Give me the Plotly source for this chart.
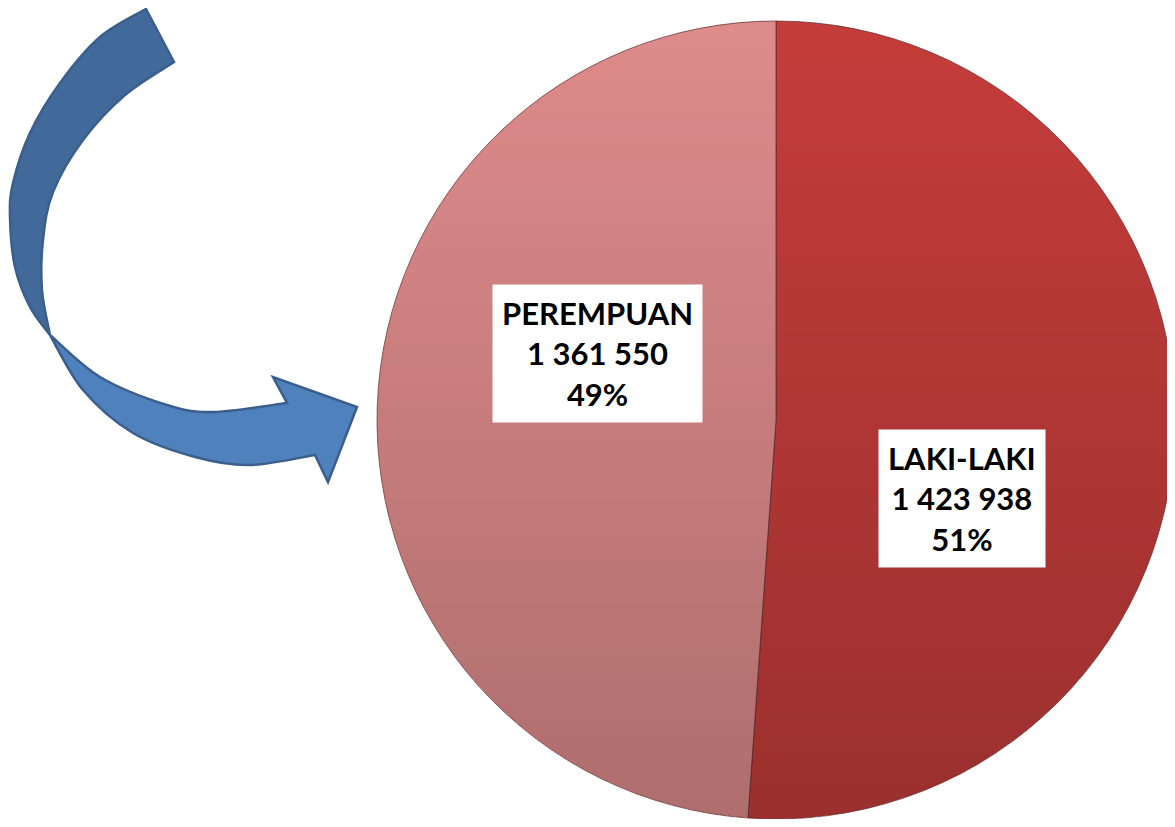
import base64
import struct
import zlib

import plotly.graph_objects as go

# ---- data ----
labels = ["LAKI-LAKI", "PEREMPUAN"]
values = [1423938, 1361550]
colors = ["#c43d3b", "#de8b8b"]

OFF = 8  # page body margin offset
W, H = 1175 - OFF, 827 - 2 * OFF
total = sum(values)
pcts = [round(v / total * 100) for v in values]
texts = [f"<b>{l}<br>{v:,}".replace(",", " ") + f"<br>{p}%</b>" for l, v, p in zip(labels, values, pcts)]


def px(x, y):
    return (x - OFF) / W, 1 - (y - OFF) / H


def smooth_path(pts):
    n = len(pts)
    out = []
    p0 = px(*pts[0])
    out.append(f"M {p0[0]:.5f},{p0[1]:.5f}")
    for i in range(n - 1):
        a = pts[i - 1] if i > 0 else pts[i]
        b = pts[i]
        c = pts[i + 1]
        d = pts[i + 2] if i + 2 < n else pts[i + 1]
        c1 = (b[0] + (c[0] - a[0]) / 6, b[1] + (c[1] - a[1]) / 6)
        c2 = (c[0] - (d[0] - b[0]) / 6, c[1] - (d[1] - b[1]) / 6)
        q1, q2, q3 = px(*c1), px(*c2), px(*c)
        out.append(f"C {q1[0]:.5f},{q1[1]:.5f} {q2[0]:.5f},{q2[1]:.5f} {q3[0]:.5f},{q3[1]:.5f}")
    return out


def poly_path(segments):
    parts = []
    first = True
    for kind, pts in segments:
        if kind == "smooth":
            s = smooth_path(pts)
            if not first:
                p = px(*pts[0])
                s = [f"L {p[0]:.5f},{p[1]:.5f}"] + s[1:]
            parts += s
        else:
            for j, pt in enumerate(pts):
                p = px(*pt)
                parts.append(("M " if first and j == 0 else "L ") + f"{p[0]:.5f},{p[1]:.5f}")
        first = False
    return " ".join(parts) + " Z"


# decorative arrow outline (screen pixels)
upper_outer = [(146, 9), (100, 37), (60, 83), (30, 133), (13, 183), (10, 217), (15, 267), (30, 307), (50, 335)]
upper_inner = [(50, 335), (42, 290), (43, 240), (53, 192), (83, 140), (125, 95), (174, 62)]
lower_bottom = [(50, 335), (83, 390), (133, 433), (195, 457), (250, 465), (315, 455)]
head = [(328, 482), (357, 407), (273, 377), (287, 403)]
lower_top = [(287, 403), (213, 412), (167, 405), (100, 377), (50, 335)]

upper_path = poly_path([("smooth", upper_outer), ("smooth", upper_inner)])
lower_path = poly_path([("smooth", lower_bottom), ("line", head), ("smooth", lower_top)])

# pie placement (screen pixels)
CX, CY, R = 776, 420, 399
x0p, y1p = px(CX - R, CY - R)
x1p, y0p = px(CX + R, CY + R)
x0p, x1p = max(0.0, x0p), min(1.0, x1p)
y0p, y1p = max(0.0, y0p), min(1.0, y1p)


def shade_png(size, max_alpha=0.21):
    # vertical darkening overlay clipped to a circle
    rows = []
    rr = (size / 2 - 0.6) ** 2
    c = size / 2
    for yy in range(size):
        a = int(255 * max_alpha * yy / (size - 1))
        dy = yy + 0.5 - c
        span = rr - dy * dy
        if span <= 0:
            rows.append(b"\x00" + b"\x00\x00\x00\x00" * size)
            continue
        hw = span ** 0.5
        xa = max(0, int(round(c - hw)))
        xb = min(size, int(round(c + hw)))
        rows.append(b"\x00" + b"\x00\x00\x00\x00" * xa + bytes((0, 0, 0, a)) * (xb - xa)
                    + b"\x00\x00\x00\x00" * (size - xb))
    raw = b"".join(rows)

    def chunk(tag, data):
        return struct.pack(">I", len(data)) + tag + data + struct.pack(">I", zlib.crc32(tag + data) & 0xFFFFFFFF)

    png = b"\x89PNG\r\n\x1a\n" + chunk(b"IHDR", struct.pack(">IIBBBBB", size, size, 8, 6, 0, 0, 0)) \
        + chunk(b"IDAT", zlib.compress(raw, 9)) + chunk(b"IEND", b"")
    return "data:image/png;base64," + base64.b64encode(png).decode()


fig = go.Figure()
fig.add_trace(go.Pie(
    labels=labels,
    values=values,
    sort=False,
    direction="clockwise",
    rotation=0,
    marker=dict(colors=colors, line=dict(color="rgba(90,40,40,0.7)", width=1)),
    textinfo="none",
    hoverinfo="label+value+percent",
    showlegend=False,
    domain=dict(x=[x0p, x1p], y=[y0p, y1p]),
))

img = shade_png(2 * R)
gx0, gy1 = px(CX - R, CY - R)
fig.add_layout_image(
    source=img, xref="paper", yref="paper", x=gx0, y=gy1,
    sizex=2 * R / W, sizey=2 * R / H, xanchor="left", yanchor="top",
    sizing="stretch", layer="above",
)

ann_pos = [(1046, 498), (597, 353)]
for t, (ax, ay) in zip(texts, ann_pos):
    x, y = px(ax, ay)
    fig.add_annotation(
        x=x, y=y, xref="paper", yref="paper", text=t, showarrow=False,
        font=dict(family="Lato", size=31, color="black", weight=900),
        bgcolor="white", borderpad=9, align="center",
    )

fig.add_shape(type="path", path=lower_path, xref="paper", yref="paper",
              fillcolor="#4f81bd", line=dict(color="#3b5f8c", width=2.5))
fig.add_shape(type="path", path=upper_path, xref="paper", yref="paper",
              fillcolor="#41699a", line=dict(color="#3b5f8c", width=2.5))

fig.update_layout(
    width=W, height=H,
    margin=dict(l=0, r=0, t=0, b=0),
    paper_bgcolor="white", plot_bgcolor="white",
)

fig.write_html("out.html")
